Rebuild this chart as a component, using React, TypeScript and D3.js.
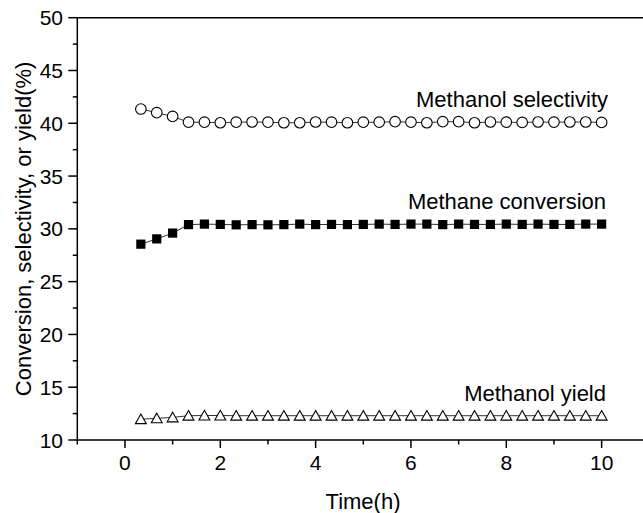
import React from "react";
import * as d3 from "d3";

const times = d3.range(1, 31).map((k) => k / 3);
const selectivity = [41.35, 41.0, 40.65, 40.1, 40.1, 40.05, 40.1, 40.12, 40.1, 40.05, 40.05, 40.12, 40.1, 40.05, 40.1,
  40.1, 40.15, 40.1, 40.05, 40.15, 40.15, 40.05, 40.12, 40.1, 40.08, 40.12, 40.1, 40.12, 40.12, 40.08];
const conversion = [28.55, 29.05, 29.6, 30.4, 30.45, 30.42, 30.38, 30.4, 30.38, 30.4, 30.45, 30.4, 30.42, 30.4, 30.42,
  30.45, 30.42, 30.45, 30.45, 30.4, 30.45, 30.42, 30.42, 30.45, 30.42, 30.45, 30.42, 30.42, 30.45, 30.45];
const yieldVals = [11.97, 12.05, 12.14, 12.3, 12.32, 12.32, 12.3, 12.3, 12.3, 12.3, 12.3, 12.3, 12.3, 12.3, 12.3,
  12.3, 12.3, 12.3, 12.3, 12.3, 12.3, 12.3, 12.3, 12.3, 12.3, 12.3, 12.3, 12.3, 12.3, 12.3];
const xTicks = [0, 2, 4, 6, 8, 10];
const xMinor = [-1, 1, 3, 5, 7, 9, 11];
const yTicks = [10, 15, 20, 25, 30, 35, 40, 45, 50];
const yMinor = [12.5, 17.5, 22.5, 27.5, 32.5, 37.5, 42.5, 47.5];
const seriesLabels = ["Methanol selectivity", "Methane conversion", "Methanol yield"];

const FONT = "'Liberation Sans', Arial, sans-serif";

export default function App() {
  const W = 643, H = 513;
  const x = d3.scaleLinear().domain([-1, 11]).range([77.3, 649.3]);
  const y = d3.scaleLinear().domain([10, 50]).range([440, 17.7]);
  const line = (vals: number[]) =>
    d3.line<number>().x((_, i) => x(times[i])).y((v) => y(v))(vals) || "";
  const triPath = (cx: number, cy: number) => {
    const s = 5.2;
    return `M${cx},${cy - s}L${cx + s * 1.05},${cy + s * 0.85}L${cx - s * 1.05},${cy + s * 0.85}Z`;
  };
  return (
    <svg width={W} height={H} style={{ position: "absolute", left: 0, top: 0, background: "#fff" }}
      fontFamily={FONT}>
      {/* frame */}
      <line x1={x(-1)} x2={x(11)} y1={y(50)} y2={y(50)} stroke="#000" strokeWidth={1.5} />
      <line x1={x(11)} x2={x(11)} y1={y(50)} y2={y(10)} stroke="#000" strokeWidth={1.5} />
      <line x1={x(-1)} x2={x(11)} y1={y(10)} y2={y(10)} stroke="#000" strokeWidth={1.5} />
      <line x1={x(-1)} x2={x(-1)} y1={y(50)} y2={y(10)} stroke="#000" strokeWidth={1.5} />
      {/* x ticks */}
      {xTicks.map((t) => (
        <g key={"xt" + t}>
          <line x1={x(t)} x2={x(t)} y1={y(10)} y2={y(10) + 8} stroke="#000" strokeWidth={1.5} />
          <text x={x(t)} y={470} textAnchor="middle" fontSize={21}>{t}</text>
        </g>
      ))}
      {xMinor.map((t) => (
        <line key={"xm" + t} x1={x(t)} x2={x(t)} y1={y(10)} y2={y(10) + 4.5} stroke="#000" strokeWidth={1.5} />
      ))}
      {/* y ticks */}
      {yTicks.map((t) => (
        <g key={"yt" + t}>
          <line x1={x(-1) - 9} x2={x(-1)} y1={y(t)} y2={y(t)} stroke="#000" strokeWidth={1.5} />
          <text x={63} y={y(t) + 7.5} textAnchor="end" fontSize={21}>{t}</text>
        </g>
      ))}
      {yMinor.map((t) => (
        <line key={"ym" + t} x1={x(-1) - 4.5} x2={x(-1)} y1={y(t)} y2={y(t)} stroke="#000" strokeWidth={1.5} />
      ))}
      {/* axis titles */}
      <text x={363} y={509} textAnchor="middle" fontSize={22}>Time(h)</text>
      <text transform={`translate(31,${(y(10) + y(50)) / 2}) rotate(-90)`} textAnchor="middle" fontSize={22}>
        Conversion, selectivity, or yield(%)
      </text>
      {/* lines */}
      <path d={line(selectivity)} fill="none" stroke="#333" strokeWidth={1} />
      <path d={line(conversion)} fill="none" stroke="#333" strokeWidth={1} />
      <path d={line(yieldVals)} fill="none" stroke="#333" strokeWidth={1} />
      {/* markers */}
      {selectivity.map((v, i) => (
        <circle key={"s" + i} cx={x(times[i])} cy={y(v)} r={5.3} fill="#fff" stroke="#000" strokeWidth={1.1} />
      ))}
      {conversion.map((v, i) => (
        <rect key={"c" + i} x={x(times[i]) - 4.6} y={y(v) - 4.6} width={9.2} height={9.2} fill="#000" />
      ))}
      {yieldVals.map((v, i) => (
        <path key={"y" + i} d={triPath(x(times[i]), y(v))} fill="#fff" stroke="#000" strokeWidth={1.1} />
      ))}
      {/* series labels */}
      <text x={608} y={107} textAnchor="end" fontSize={22}>{seriesLabels[0]}</text>
      <text x={606} y={209} textAnchor="end" fontSize={22}>{seriesLabels[1]}</text>
      <text x={606} y={401} textAnchor="end" fontSize={22}>{seriesLabels[2]}</text>
    </svg>
  );
}
